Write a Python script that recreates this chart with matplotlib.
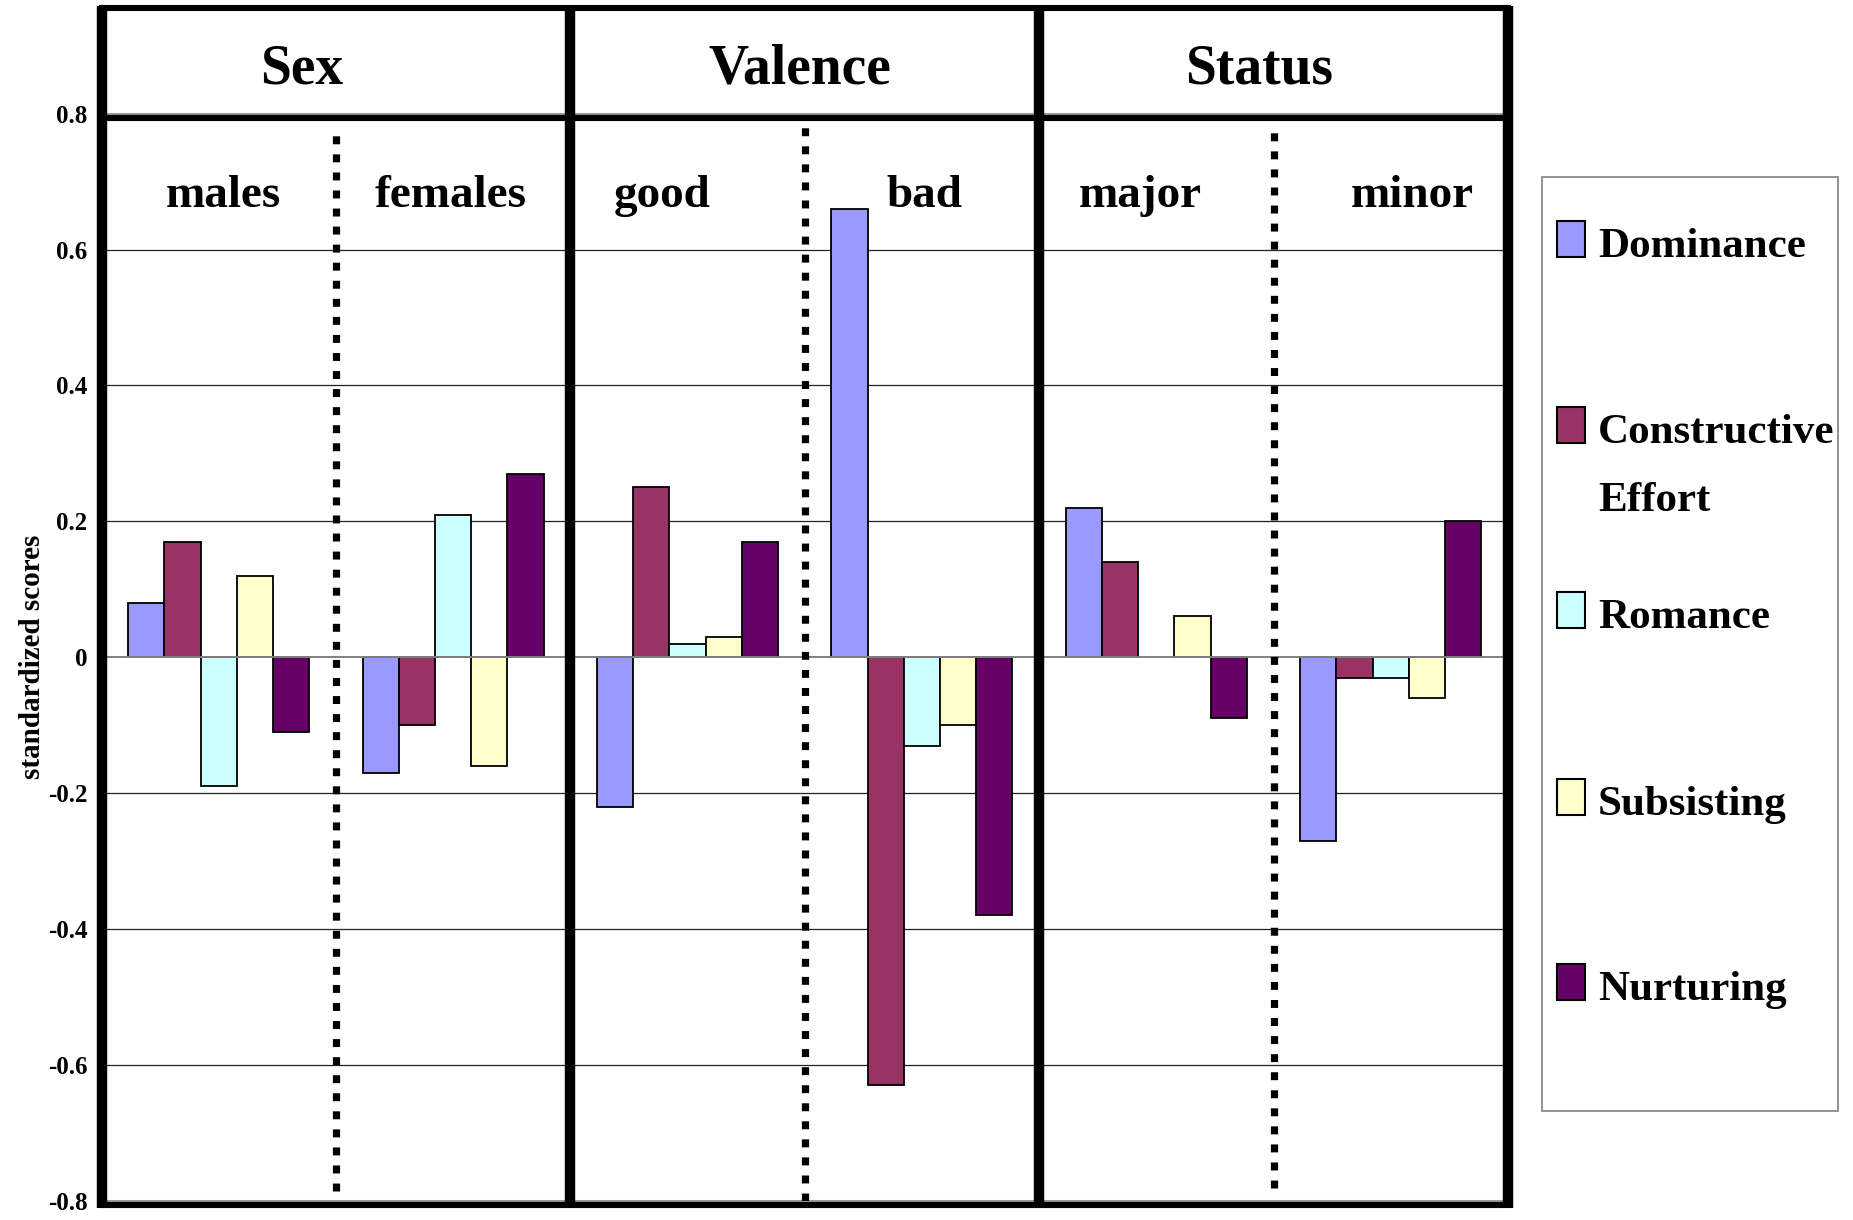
import matplotlib.pyplot as plt
from matplotlib.patches import Rectangle
import numpy as np

# categories and values
groups = ['males', 'females', 'good', 'bad', 'major', 'minor']
panels = ['Sex', 'Valence', 'Status']
series = ['Dominance', 'Constructive\nEffort', 'Romance', 'Subsisting', 'Nurturing']
dominance = [0.08, -0.17, -0.22, 0.66, 0.22, -0.27]
constructive = [0.17, -0.10, 0.25, -0.63, 0.14, -0.03]
romance = [-0.19, 0.21, 0.02, -0.13, 0.0, -0.03]
subsisting = [0.12, -0.16, 0.03, -0.10, 0.06, -0.06]
nurturing = [-0.11, 0.27, 0.17, -0.38, -0.09, 0.20]
colors = ['#9999FF', '#993366', '#CCFFFF', '#FFFFCC', '#660066']
yticks = [-0.8, -0.6, -0.4, -0.2, 0, 0.2, 0.4, 0.6, 0.8]
ytick_labels = ['-0.8', '-0.6', '-0.4', '-0.2', '0', '0.2', '0.4', '0.6', '0.8']

plt.rcParams['font.family'] = ['Liberation Serif', 'DejaVu Serif']
plt.rcParams['font.weight'] = 'bold'

W, H = 1853, 1220
fig = plt.figure(figsize=(W / 100, H / 100), dpi=100)
ax = fig.add_axes([0.0548, 0.0158, 0.759, 0.891])
ax.set_xlim(0, 6)
ax.set_ylim(-0.8, 0.8)

values = [dominance, constructive, romance, subsisting, nurturing]
x = np.arange(len(groups)) + 0.5
bw = 0.1545
for i, vals in enumerate(values):
    lws = [0 if v == 0 else 1.3 for v in vals]
    ax.bar(x + (i - 2) * bw, vals, width=bw, color=colors[i],
           edgecolor='black', linewidth=lws, zorder=3)

# grid
for t in yticks:
    if t in (0.8, -0.8):
        ax.axhline(t, color='#999999', lw=2.2, zorder=1, clip_on=False)
    elif t == 0:
        ax.axhline(t, color='#808080', lw=1.4, zorder=4)
    else:
        ax.axhline(t, color='#222222', lw=0.9, zorder=1)

ax.set_yticks(yticks)
ax.set_yticklabels(ytick_labels, fontsize=18, fontweight='bold')
ax.tick_params(axis='y', length=0, pad=10)
ax.set_xticks([])
for s in ax.spines.values():
    s.set_visible(False)
ax.set_ylabel('standardized scores', fontsize=21, fontweight='bold')
ax.yaxis.set_label_coords(-0.0395, 0.5)

# frame: thick panel borders and header box
top = 0.955
for xv in [0, 2, 4, 6]:
    ax.plot([xv, xv], [-0.81, top + 0.004], color='black', lw=7.5,
            solid_capstyle='butt', clip_on=False, zorder=6)
ax.plot([0, 6], [top, top], color='black', lw=4.4, clip_on=False, zorder=6)
ax.plot([0, 6], [0.794, 0.794], color='black', lw=4.4, clip_on=False, zorder=6)
ax.plot([0, 6], [-0.806, -0.806], color='black', lw=4.4, clip_on=False, zorder=6)

# dotted dividers
for xv, y0 in [(1, -0.785), (3, -0.8), (5, -0.782)]:
    ax.plot([xv, xv], [y0, 0.782], color='black', lw=5.2,
            linestyle=(0, (1.1, 1.4)), dash_capstyle='butt', zorder=5)

# header and group labels
for px, name in zip([0.852, 2.98, 4.94], panels):
    ax.text(px, 0.865, name, ha='center', va='center', fontsize=40,
            fontweight='bold', clip_on=False)
for px, name in zip([0.52, 1.49, 2.39, 3.51, 4.43, 5.59], groups):
    ax.text(px, 0.663, name, ha='center', va='baseline', fontsize=34,
            fontweight='bold', zorder=7)

# legend box
def fx(p):
    return p / W

def fy(p):
    return 1 - p / H

fig.add_artist(Rectangle((fx(1542), fy(1111)), fx(1838) - fx(1542), fy(177) - fy(1111),
                         transform=fig.transFigure, facecolor='white',
                         edgecolor='#808080', lw=1.2))
baselines = [257, 443, 628, 815, 1000]
line_gap = 68
for name, c, b in zip(series, colors, baselines):
    fig.add_artist(Rectangle((fx(1557), fy(b)), fx(28), 36 / H,
                             transform=fig.transFigure, facecolor=c,
                             edgecolor='black', lw=1.5))
    extra = name.count('\n') * line_gap
    fig.text(fx(1598), fy(b + extra), name, fontsize=31, fontweight='bold',
             va='baseline', ha='left', linespacing=2.03)

fig.savefig('out.png', dpi=100)
